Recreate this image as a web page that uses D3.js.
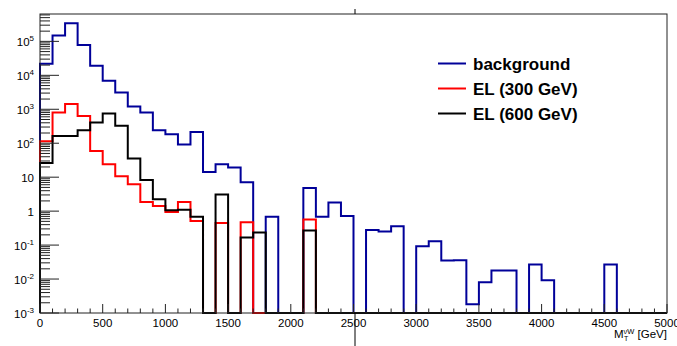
<!DOCTYPE html>
<html>
<head>
<meta charset="utf-8">
<script src="https://cdn.jsdelivr.net/npm/d3@7"></script>
<style>
  body { margin: 0; background: #fff; }
  text { font-family: "Liberation Sans", Arial, sans-serif; }
</style>
</head>
<body>
<div id="chart"></div>
<script>
// bins: 100 GeV wide, 0 - 5000
var binEdges = d3.range(0, 5001, 100);

var background = [2.2e4, 1.5e5, 3.4e5, 7.8e4, 1.9e4, 6900, 3100, 1200, 810, 242,
    185, 92, 215, 14.3, 24, 19.3, 7.1, 0, 0.68, 0,
    0, 4.8, 0.68, 1.79, 0.72, 0, 0.28, 0.25, 0.36, 0,
    0.092, 0.13, 0.035, 0.036, 0.0018, 0.008, 0.0178, 0.0178, 0, 0.027,
    0.0092, 0, 0, 0, 0, 0.027, 0, 0, 0, 0];

var el300 = [115, 810, 1440, 630, 59, 24, 10.7, 6.2, 1.87, 1.42,
    0.95, 1.87, 0.51, 0, 0.45, 0, 0.47, 0, 0, 0,
    0, 0.57, 0, 0, 0, 0, 0, 0, 0, 0,
    0, 0, 0, 0, 0, 0, 0, 0, 0, 0,
    0, 0, 0, 0, 0, 0, 0, 0, 0, 0];

var el600 = [26, 162, 162, 243, 410, 755, 325, 35.5, 8.2, 2.24,
    1.06, 1.1, 0.68, 0, 3.1, 0, 0.166, 0.234, 0, 0,
    0, 0.27, 0, 0, 0, 0, 0, 0, 0, 0,
    0, 0, 0, 0, 0, 0, 0, 0, 0, 0,
    0, 0, 0, 0, 0, 0, 0, 0, 0, 0];

var seriesNames = ['background', 'EL (300 GeV)', 'EL (600 GeV)'];
var seriesColors = ['#000099', '#ff0000', '#000000'];

var xTicks = [0, 500, 1000, 1500, 2000, 2500, 3000, 3500, 4000, 4500, 5000];
var yDecades = [-3, -2, -1, 0, 1, 2, 3, 4, 5];
var yDomain = [1e-3, 6.4e5];

// constructor
HistPlot = function(_parentElement, _svgWidth, _svgHeight) {
    this.parentElement = _parentElement;
    this.svgWidth = _svgWidth;
    this.svgHeight = _svgHeight;
    this.initVis();
}

HistPlot.prototype.initVis = function() {
    var vis = this;

    vis.margin = {top: 14, right: 10, bottom: 33, left: 40};
    vis.width = vis.svgWidth - vis.margin.left - vis.margin.right;
    vis.height = vis.svgHeight - vis.margin.top - vis.margin.bottom;

    vis.svg = d3.select(vis.parentElement).append('svg')
        .attr('width', vis.svgWidth).attr('height', vis.svgHeight);

    vis.svg.append('defs').append('clipPath').attr('id', 'plotClip')
        .append('rect').attr('x', -1).attr('y', 0)
        .attr('width', vis.width + 2).attr('height', vis.height + 1);

    vis.g = vis.svg.append('g')
        .attr('transform', 'translate(' + vis.margin.left + ',' + vis.margin.top + ')');

    vis.x = d3.scaleLinear().domain([0, 5000]).range([0, vis.width]);
    vis.y = d3.scaleLog().domain(yDomain).range([vis.height, 0]);

    vis.drawHists();
    vis.drawAxes();
    vis.drawLegend();
}

HistPlot.prototype.drawHists = function() {
    var vis = this;

    var line = d3.line()
        .x(function(d) { return vis.x(d[0]); })
        .y(function(d) { return d[1] > yDomain[0] ? vis.y(d[1]) : vis.height; });

    var hists = [background, el300, el600];
    var layer = vis.g.append('g').attr('clip-path', 'url(#plotClip)');

    hists.forEach(function(vals, k) {
        var pts = [[binEdges[0], 0]];
        vals.forEach(function(v, i) {
            pts.push([binEdges[i], v]);
            pts.push([binEdges[i + 1], v]);
        });
        pts.push([binEdges[binEdges.length - 1], 0]);

        layer.append('path')
            .attr('d', line(pts))
            .attr('fill', 'none')
            .attr('stroke', seriesColors[k])
            .attr('stroke-width', 2)
            .attr('stroke-linejoin', 'miter');
    });
}

HistPlot.prototype.drawAxes = function() {
    var vis = this;
    var axisCol = '#222';

    // frame
    vis.g.append('rect')
        .attr('x', 0).attr('y', 0)
        .attr('width', vis.width).attr('height', vis.height)
        .attr('fill', 'none').attr('stroke', axisCol).attr('stroke-width', 1);

    // x ticks (major 500, minor 100)
    var xt = vis.g.append('g').attr('stroke', axisCol).attr('stroke-width', 1);
    d3.range(0, 5001, 100).forEach(function(v) {
        var len = (v % 500 === 0) ? 9 : 4.5;
        xt.append('line')
            .attr('x1', vis.x(v)).attr('x2', vis.x(v))
            .attr('y1', vis.height).attr('y2', vis.height - len);
    });

    vis.g.append('g').selectAll('text').data(xTicks).enter().append('text')
        .attr('x', function(d) { return vis.x(d); })
        .attr('y', vis.height + 13.5)
        .attr('text-anchor', 'middle')
        .attr('font-size', '11.5px')
        .text(function(d) { return d; });

    // y ticks (log, minor at 2..9)
    var yt = vis.g.append('g').attr('stroke', axisCol).attr('stroke-width', 1);
    yDecades.forEach(function(p) {
        for (var m = 1; m <= 9; m++) {
            var v = m * Math.pow(10, p);
            if (v < yDomain[0] || v > yDomain[1]) continue;
            var len = (m === 1) ? 19 : 10;
            yt.append('line')
                .attr('x1', 0).attr('x2', len)
                .attr('y1', vis.y(v)).attr('y2', vis.y(v));
        }
    });

    // y labels, right aligned against the axis
    var yl = vis.g.append('g').attr('font-size', '11.5px').attr('text-anchor', 'end');
    yDecades.forEach(function(p) {
        var yy = vis.y(Math.pow(10, p)) + 4.5;
        var t = yl.append('text').attr('x', -6).attr('y', yy);
        if (p === 0) {
            t.text('1');
        } else if (p === 1) {
            t.text('10');
        } else {
            t.append('tspan').text('10');
            t.append('tspan').attr('font-size', '8px').attr('dy', -5).text(p);
        }
    });

    // x title
    var xl = vis.g.append('text')
        .attr('x', vis.width).attr('y', vis.height + 25)
        .attr('text-anchor', 'end')
        .attr('font-size', '11.5px');
    xl.append('tspan').text('M');
    xl.append('tspan').attr('font-size', '7.5px').attr('dy', -4).text('\u03bdW');
    xl.append('tspan').attr('font-size', '11.5px').attr('dy', 4).text(' [GeV]');
    vis.g.append('text')
        .attr('x', vis.width - 43).attr('y', vis.height + 27.5)
        .attr('font-size', '7px').text('T');

    // stray pad line at 2500
    var xs = vis.x(2500) + 1.5;
    vis.svg.append('line').attr('x1', vis.margin.left + xs).attr('x2', vis.margin.left + xs)
        .attr('y1', 9).attr('y2', vis.margin.top).attr('stroke', '#000');
    vis.svg.append('line').attr('x1', vis.margin.left + xs).attr('x2', vis.margin.left + xs)
        .attr('y1', vis.margin.top + vis.height).attr('y2', vis.svgHeight).attr('stroke', '#000');
}

HistPlot.prototype.drawLegend = function() {
    var vis = this;
    var lg = vis.svg.append('g');

    seriesNames.forEach(function(name, i) {
        var yy = 63.5 + i * 25;
        lg.append('line')
            .attr('x1', 438).attr('x2', 466)
            .attr('y1', yy).attr('y2', yy)
            .attr('stroke', seriesColors[i]).attr('stroke-width', 2);
        lg.append('text')
            .attr('x', 473).attr('y', yy + 6)
            .attr('font-size', '17px').attr('font-weight', 'bold')
            .text(name);
    });
}

var plot = new HistPlot('#chart', 677, 346);
</script>
</body>
</html>
